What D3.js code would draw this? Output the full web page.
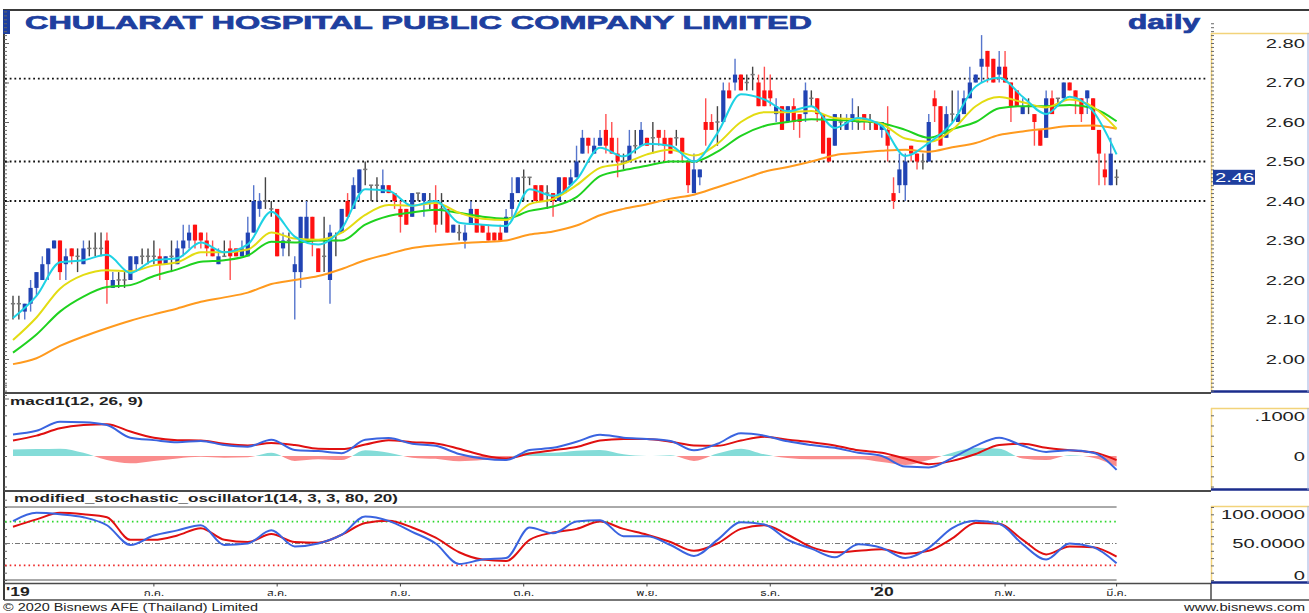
<!DOCTYPE html>
<html>
<head>
<meta charset="utf-8">
<script src="https://cdn.jsdelivr.net/npm/d3@7"></script>
<style>
  body { margin: 0; background: #fff; }
  svg { display: block; font-family: "Liberation Sans", Arial, sans-serif; }
</style>
</head>
<body>
<svg id="chart"></svg>
<script>
// daily candles, one value per trading day
const candleOpen = [
  2.14,2.14,2.12,2.14,2.18,2.20,2.24,2.28,2.30,2.24,
  2.28,2.26,2.24,2.28,2.28,2.28,2.30,2.18,2.20,2.20,
  2.20,2.24,2.26,2.26,2.26,2.26,2.24,2.26,2.24,2.28,
  2.30,2.34,2.32,2.30,2.28,2.24,2.26,2.28,2.28,2.26,
  2.26,2.32,2.38,2.40,2.38,2.38,2.28,2.30,2.22,2.22,
  2.30,2.36,2.28,2.26,2.20,2.30,2.32,2.40,2.38,2.42,
  2.48,2.44,2.44,2.42,2.44,2.42,2.38,2.38,2.36,2.42,
  2.40,2.40,2.40,2.38,2.38,2.32,2.32,2.30,2.34,2.38,
  2.34,2.32,2.32,2.32,2.32,2.38,2.42,2.46,2.46,2.44,
  2.44,2.42,2.42,2.40,2.46,2.44,2.46,2.52,2.56,2.52,
  2.54,2.58,2.56,2.52,2.50,2.50,2.54,2.54,2.56,2.56,
  2.58,2.56,2.56,2.56,2.56,2.50,2.42,2.46,2.60,2.60,
  2.60,2.60,2.68,2.70,2.72,2.70,2.72,2.70,2.68,2.68,
  2.62,2.64,2.60,2.64,2.62,2.62,2.66,2.66,2.62,2.56,
  2.54,2.60,2.58,2.60,2.60,2.62,2.60,2.60,2.58,2.58,
  2.42,2.44,2.44,2.54,2.52,2.50,2.50,2.66,2.64,2.56,
  2.62,2.60,2.62,2.66,2.70,2.74,2.78,2.76,2.72,2.74,
  2.70,2.68,2.62,2.64,2.62,2.58,2.56,2.66,2.66,2.66,
  2.70,2.68,2.66,2.66,2.66,2.58,2.48,2.44,2.46
];
const candleHigh = [
  2.16,2.16,2.14,2.20,2.22,2.26,2.28,2.30,2.30,2.28,
  2.28,2.28,2.30,2.30,2.32,2.32,2.32,2.22,2.22,2.22,
  2.26,2.26,2.28,2.28,2.30,2.28,2.26,2.30,2.30,2.34,
  2.34,2.34,2.32,2.32,2.30,2.28,2.30,2.30,2.28,2.30,
  2.36,2.44,2.42,2.46,2.40,2.38,2.32,2.32,2.26,2.36,
  2.40,2.36,2.28,2.36,2.34,2.32,2.38,2.42,2.46,2.48,
  2.50,2.44,2.46,2.48,2.44,2.42,2.40,2.38,2.42,2.42,
  2.42,2.42,2.44,2.42,2.38,2.34,2.34,2.34,2.40,2.38,
  2.34,2.34,2.32,2.34,2.38,2.46,2.46,2.48,2.46,2.44,
  2.44,2.44,2.42,2.46,2.46,2.48,2.54,2.58,2.56,2.56,
  2.58,2.62,2.60,2.56,2.52,2.58,2.58,2.60,2.56,2.60,
  2.58,2.58,2.56,2.58,2.56,2.50,2.52,2.48,2.66,2.62,
  2.64,2.70,2.70,2.76,2.72,2.72,2.74,2.72,2.74,2.72,
  2.66,2.64,2.64,2.66,2.62,2.70,2.68,2.66,2.62,2.56,
  2.62,2.62,2.62,2.66,2.64,2.62,2.62,2.60,2.60,2.64,
  2.46,2.52,2.52,2.54,2.52,2.52,2.62,2.68,2.64,2.64,
  2.68,2.68,2.68,2.74,2.72,2.82,2.78,2.76,2.78,2.78,
  2.70,2.68,2.66,2.66,2.62,2.58,2.68,2.68,2.66,2.70,
  2.70,2.68,2.66,2.68,2.66,2.58,2.52,2.56,2.48
];
const candleLow = [
  2.10,2.10,2.10,2.12,2.16,2.20,2.20,2.28,2.20,2.20,
  2.24,2.22,2.24,2.26,2.26,2.26,2.14,2.18,2.18,2.18,
  2.20,2.22,2.24,2.24,2.24,2.20,2.24,2.22,2.24,2.26,
  2.28,2.28,2.28,2.26,2.26,2.24,2.26,2.20,2.26,2.26,
  2.26,2.32,2.36,2.38,2.36,2.26,2.26,2.26,2.10,2.18,
  2.30,2.26,2.22,2.22,2.14,2.26,2.32,2.36,2.38,2.40,
  2.44,2.40,2.40,2.42,2.42,2.38,2.32,2.34,2.36,2.40,
  2.36,2.38,2.32,2.34,2.32,2.32,2.30,2.28,2.34,2.32,
  2.32,2.30,2.30,2.30,2.32,2.36,2.42,2.40,2.44,2.40,
  2.40,2.38,2.36,2.40,2.42,2.44,2.46,2.52,2.52,2.52,
  2.54,2.52,2.52,2.46,2.48,2.50,2.52,2.54,2.54,2.52,
  2.54,2.50,2.52,2.54,2.50,2.42,2.42,2.44,2.54,2.58,
  2.54,2.60,2.66,2.68,2.68,2.68,2.68,2.64,2.64,2.64,
  2.60,2.58,2.60,2.58,2.56,2.60,2.64,2.60,2.52,2.50,
  2.54,2.58,2.58,2.58,2.58,2.58,2.58,2.58,2.56,2.50,
  2.38,2.42,2.40,2.50,2.48,2.48,2.50,2.60,2.54,2.56,
  2.60,2.60,2.62,2.66,2.70,2.70,2.70,2.70,2.70,2.70,
  2.60,2.64,2.62,2.62,2.54,2.54,2.56,2.62,2.64,2.66,
  2.68,2.62,2.60,2.62,2.58,2.44,2.44,2.44,2.44
];
const candleClose = [
  2.14,2.14,2.14,2.18,2.22,2.24,2.28,2.30,2.22,2.26,
  2.26,2.26,2.28,2.28,2.28,2.28,2.20,2.20,2.20,2.20,
  2.26,2.26,2.26,2.26,2.26,2.24,2.26,2.26,2.28,2.30,
  2.32,2.30,2.30,2.28,2.26,2.26,2.26,2.26,2.26,2.28,
  2.32,2.40,2.40,2.40,2.38,2.26,2.30,2.30,2.24,2.36,
  2.36,2.30,2.22,2.26,2.32,2.30,2.38,2.36,2.44,2.48,
  2.48,2.44,2.44,2.44,2.42,2.40,2.36,2.34,2.42,2.42,
  2.42,2.40,2.34,2.38,2.32,2.34,2.32,2.32,2.38,2.32,
  2.32,2.30,2.30,2.30,2.36,2.42,2.46,2.46,2.46,2.40,
  2.40,2.42,2.40,2.46,2.42,2.46,2.50,2.56,2.54,2.54,
  2.56,2.54,2.52,2.50,2.50,2.54,2.54,2.58,2.54,2.56,
  2.56,2.54,2.52,2.56,2.52,2.44,2.48,2.48,2.58,2.58,
  2.60,2.68,2.66,2.72,2.68,2.70,2.72,2.64,2.64,2.66,
  2.64,2.58,2.64,2.60,2.60,2.68,2.66,2.62,2.52,2.50,
  2.62,2.60,2.60,2.62,2.60,2.60,2.60,2.58,2.60,2.54,
  2.40,2.48,2.50,2.52,2.50,2.50,2.60,2.64,2.54,2.62,
  2.62,2.62,2.66,2.70,2.72,2.76,2.74,2.70,2.74,2.70,
  2.64,2.64,2.64,2.64,2.60,2.54,2.66,2.62,2.66,2.70,
  2.68,2.66,2.62,2.68,2.58,2.52,2.46,2.52,2.46
];

// line series, one value every 4th trading day (day 0, 4, 8, ...)
const sampleStep = 4;
const maCyan = [2.104,2.16,2.245,2.25,2.264,2.218,2.25,2.255,2.295,2.27,2.29,2.373,2.31,2.29,2.33,2.43,
  2.426,2.388,2.40,2.345,2.34,2.337,2.43,2.413,2.454,2.535,2.513,2.545,2.54,2.50,2.572,2.67,
  2.657,2.627,2.64,2.585,2.61,2.59,2.514,2.547,2.598,2.69,2.712,2.664,2.62,2.664,2.627,2.518];
const maYellow = [2.048,2.105,2.178,2.213,2.225,2.222,2.237,2.245,2.27,2.27,2.277,2.32,2.305,2.302,2.32,2.365,
  2.39,2.388,2.395,2.37,2.355,2.352,2.392,2.405,2.44,2.484,2.495,2.518,2.53,2.515,2.545,2.60,
  2.625,2.625,2.628,2.61,2.606,2.595,2.558,2.55,2.58,2.64,2.663,2.65,2.637,2.657,2.638,2.583];
const maGreen = [2.016,2.062,2.12,2.158,2.182,2.187,2.21,2.227,2.246,2.25,2.262,2.297,2.295,2.30,2.30,2.34,
  2.362,2.371,2.378,2.37,2.36,2.355,2.375,2.386,2.41,2.463,2.478,2.489,2.50,2.50,2.525,2.565,
  2.59,2.60,2.607,2.605,2.602,2.597,2.58,2.56,2.582,2.60,2.635,2.64,2.64,2.643,2.635,2.602];
const maOrange = [1.987,2.002,2.033,2.057,2.078,2.097,2.113,2.128,2.145,2.156,2.168,2.19,2.20,2.21,2.228,2.25,
  2.266,2.281,2.288,2.293,2.296,2.30,2.315,2.323,2.338,2.364,2.38,2.392,2.406,2.416,2.435,2.454,
  2.474,2.486,2.50,2.516,2.522,2.527,2.53,2.525,2.536,2.547,2.567,2.576,2.583,2.59,2.591,2.583];

const macdLine = [0.053,0.062,0.084,0.083,0.076,0.045,0.039,0.034,0.037,0.027,0.023,0.04,0.015,0.012,0.007,0.04,
  0.044,0.03,0.025,0.005,-0.006,-0.01,0.015,0.02,0.035,0.052,0.045,0.042,0.037,0.014,0.03,0.056,
  0.05,0.036,0.027,0.02,0.008,0.0,-0.026,-0.028,-0.005,0.025,0.045,0.025,0.01,0.014,0.008,-0.034];
const macdSignal = [0.038,0.05,0.068,0.076,0.078,0.06,0.045,0.039,0.038,0.03,0.026,0.032,0.027,0.018,0.017,0.028,
  0.039,0.034,0.031,0.018,0.002,-0.006,0.006,0.014,0.022,0.038,0.042,0.042,0.035,0.026,0.025,0.038,
  0.047,0.04,0.034,0.026,0.014,0.008,-0.006,-0.02,-0.012,0.005,0.027,0.03,0.02,0.014,0.009,-0.01];
const macdHist = [0.016,0.017,0.018,0.008,-0.01,-0.018,-0.012,-0.006,-0.002,-0.004,-0.003,0.008,-0.012,-0.008,-0.01,0.014,
  0.008,-0.004,-0.007,-0.013,-0.01,-0.005,0.01,0.008,0.013,0.015,0.004,0.0,0.002,-0.012,0.006,0.018,
  0.004,-0.005,-0.008,-0.008,-0.008,-0.015,-0.022,-0.01,0.008,0.02,0.018,-0.006,-0.01,0.002,-0.004,-0.026];

const stochK = [80.8,92,90,86,75,48,61,68,75,48,50,68,46,50,62,87,
  81,66,50,22,28,30,72,64,80,82,60,60,48,33,55,79,
  76,55,43,31,49,44,30,44,71,81,77,49,28,50,45,23];
const stochD = [73,83,92,90,86,55,55,61,71,55,52,63,52,51,62,78,
  81,72,58,38,28,26,55,65,70,80,70,62,52,40,50,70,
  75,62,45,38,40,42,36,40,57,78,77,55,35,46,45,32];

// axes and labels
const priceTicks = [2.0,2.1,2.2,2.3,2.4,2.5,2.6,2.7,2.8];
const priceRefLines = [2.71, 2.50, 2.40];
const lastPrice = 2.46;
const macdTicks = [0, 0.1];
const stochTicks = [0, 50, 100];
const stochLevels = [{v: 80, color: '#2fd82f'}, {v: 20, color: '#ee2a2a'}];
const monthLabels = ['ก.ค.','ส.ค.','ก.ย.','ต.ค.','พ.ย.','ธ.ค.',"'20",'ก.พ.','มี.ค.'];
const monthStartIdx = [24,45,66,87,108,129,148,169,188];
const firstYearLabel = "'19";
const titleText = 'CHULARAT HOSPITAL PUBLIC COMPANY LIMITED';

class DailyChart {

    constructor(_config) {
        this.config = {
            parentElement: _config.parentElement,
            containerWidth: _config.containerWidth || 1309,
            containerHeight: _config.containerHeight || 613,
            plotLeft: 5, plotRight: 1208, boxLeft: 1211, boxRight: 1309,
            firstX: 13, lastX: 1116.6,
            price: {top: 33, bottom: 392},
            macd: {top: 408, bottom: 490},
            stoch: {top: 506, bottom: 583},
            stretch: 1.55
        }
        this.initVis();
    }

    initVis() {
        let vis = this;

        vis.svg = d3.select(vis.config.parentElement)
            .attr('width', vis.config.containerWidth)
            .attr('height', vis.config.containerHeight);

        vis.xScale = d3.scaleLinear()
            .domain([0, candleClose.length - 1])
            .range([vis.config.firstX, vis.config.lastX]);

        vis.yPrice = d3.scaleLinear().domain([2.0, 2.8]).range([359, 43]);
        vis.yMacd = d3.scaleLinear().domain([0, 0.1]).range([456, 415.3]);
        vis.yStoch = d3.scaleLinear().domain([0, 100]).range([580, 507]);

        vis.candles = candleClose.map((c, i) => ({
            i: i, o: candleOpen[i], h: candleHigh[i], l: candleLow[i], c: c
        }));

        vis.sampled = arr => arr.map((v, k) => ({i: k * sampleStep, v: v}));

        vis.updateVis();
    }

    updateVis() {
        let vis = this;
        vis.renderFrame();
        vis.renderPrice();
        vis.renderMacd();
        vis.renderStoch();
        vis.renderTimeAxis();
    }

    // stretched text, the original screenshot is wide
    stretchText(g, x, y, txt, opts) {
        let vis = this;
        return g.append('text')
            .attr('transform', `translate(${x},${y}) scale(${opts.sx || vis.config.stretch},1)`)
            .attr('text-anchor', opts.anchor || 'start')
            .attr('font-size', opts.size || 13)
            .attr('font-weight', opts.weight || 'normal')
            .attr('font-family', opts.family || null)
            .attr('fill', opts.fill || '#222')
            .text(txt);
    }

    renderFrame() {
        let vis = this;
        const c = vis.config;
        const g = vis.svg.append('g');

        const hline = (y, x1, x2, col, w) => g.append('line')
            .attr('x1', x1).attr('x2', x2).attr('y1', y).attr('y2', y)
            .attr('stroke', col).attr('stroke-width', w);
        const vline = (x, y1, y2, col, w) => g.append('line')
            .attr('x1', x).attr('x2', x).attr('y1', y1).attr('y2', y2)
            .attr('stroke', col).attr('stroke-width', w);

        hline(10, 3, c.containerWidth, '#3a3a3a', 2);
        vline(4, 10, 600, '#3a3a3a', 2);
        g.append('rect').attr('x', 3).attr('y', 10).attr('width', 7).attr('height', 24).attr('fill', '#1e3f9f');

        hline(393, 4, c.boxLeft, '#4a4a4a', 2);
        hline(491, 4, c.boxLeft, '#4a4a4a', 2);
        hline(583.5, 4, c.boxLeft, '#4a4a4a', 1.5);
        hline(600, 4, c.containerWidth, '#4a4a4a', 1.5);
        vline(c.boxLeft, 583, 600, '#4a4a4a', 1.5);

        // right axis boxes
        [c.price, c.macd, c.stoch].forEach(p => {
            vline(c.boxLeft + 0.5, p.top, p.bottom, '#f2d37a', 1.5);
            hline(p.top + 0.5, c.boxLeft, c.boxRight, '#f2d37a', 1.5);
            hline(p.bottom - 0.5, c.boxLeft, c.boxRight, '#1b2d8c', 2.5);
            vline(c.boxRight - 1, p.top, p.bottom, '#9fb0e0', 1);
        });

        vis.stretchText(g, 25, 28.5, titleText, {size: 19, weight: 'bold', fill: '#1e3f9f', sx: 1})
            .attr('textLength', 787).attr('lengthAdjust', 'spacingAndGlyphs')
            .attr('stroke', '#1e3f9f').attr('stroke-width', 0.7);
        vis.stretchText(g, 1128, 28.5, 'daily', {size: 20, weight: 'bold', fill: '#1e3f9f', sx: 1})
            .attr('textLength', 72).attr('lengthAdjust', 'spacingAndGlyphs')
            .attr('stroke', '#1e3f9f').attr('stroke-width', 0.7);

        vis.stretchText(g, 3, 611, '© 2020 Bisnews AFE (Thailand) Limited', {size: 10, sx: 1})
            .attr('textLength', 255).attr('lengthAdjust', 'spacingAndGlyphs');
        vis.stretchText(g, 1184, 611, 'www.bisnews.com', {size: 10, sx: 1})
            .attr('textLength', 121).attr('lengthAdjust', 'spacingAndGlyphs');
    }

    minorTicks(scale, lo, hi, step, x, size) {
        let vis = this;
        const vals = d3.range(Math.round(lo / step), Math.round(hi / step) + 1).map(k => k * step);
        vis.svg.append('g')
            .attr('transform', `translate(${x},0)`)
            .call(d3.axisRight(scale).tickValues(vals).tickSize(size).tickFormat(''))
            .call(g => g.select('.domain').remove())
            .call(g => g.selectAll('line').attr('stroke', '#666'));
    }

    boxLabels(scale, ticks, fmt, panel) {
        let vis = this;
        const g = vis.svg.append('g');
        ticks.forEach(t => {
            const y = Math.max(panel.top + 8, Math.min(panel.bottom - 8, scale(t)));
            vis.stretchText(g, 1305, y + 4.5, fmt(t), {anchor: 'end', size: 13});
        });
    }

    renderPrice() {
        let vis = this;
        const c = vis.config;

        vis.minorTicks(vis.yPrice, 1.92, 2.88, 0.01, 4, 3);
        vis.minorTicks(vis.yPrice, 1.9, 2.8, 0.1, 4, 5);
        vis.minorTicks(vis.yPrice, 1.92, 2.85, 0.01, c.boxLeft, 3);

        vis.svg.append('g').selectAll('line')
            .data(priceRefLines)
            .join('line')
            .attr('x1', c.plotLeft).attr('x2', c.plotRight)
            .attr('y1', d => vis.yPrice(d)).attr('y2', d => vis.yPrice(d))
            .attr('stroke', '#111').attr('stroke-width', 1.8)
            .attr('stroke-dasharray', '1.8,2.9');

        const cg = vis.svg.append('g');
        const kind = d => d.c > d.o ? 'up' : (d.c < d.o ? 'down' : 'flat');
        const wickCol = {up: '#5675cc', down: '#ff5050', flat: '#444'};
        const bodyCol = {up: '#2143b3', down: '#ff1111', flat: '#777'};

        cg.selectAll('line.wick')
            .data(vis.candles)
            .join('line')
            .attr('class', 'wick')
            .attr('x1', d => vis.xScale(d.i)).attr('x2', d => vis.xScale(d.i))
            .attr('y1', d => vis.yPrice(d.h)).attr('y2', d => vis.yPrice(d.l))
            .attr('stroke', d => wickCol[kind(d)])
            .attr('stroke-width', 1.4);

        cg.selectAll('rect.body')
            .data(vis.candles)
            .join('rect')
            .attr('class', 'body')
            .attr('x', d => vis.xScale(d.i) - 2.1)
            .attr('width', 4.2)
            .attr('y', d => vis.yPrice(Math.max(d.o, d.c)) - (d.o === d.c ? 0.75 : 0))
            .attr('height', d => Math.max(1.5, Math.abs(vis.yPrice(d.o) - vis.yPrice(d.c))))
            .attr('fill', d => bodyCol[kind(d)]);

        const line = d3.line()
            .x(d => vis.xScale(d.i))
            .y(d => vis.yPrice(d.v))
            .curve(d3.curveMonotoneX);

        [[maOrange, '#ff9a1e'], [maGreen, '#1fd21f'], [maYellow, '#e3dc12'], [maCyan, '#1ed2e4']]
            .forEach(([arr, col]) => {
                vis.svg.append('path')
                    .datum(vis.sampled(arr))
                    .attr('d', line)
                    .attr('fill', 'none')
                    .attr('stroke', col)
                    .attr('stroke-width', 2);
            });

        vis.boxLabels(vis.yPrice, priceTicks, d3.format('.2f'), c.price);

        const ly = vis.yPrice(lastPrice);
        vis.svg.append('rect')
            .attr('x', 1213).attr('y', ly - 7.5).attr('width', 42).attr('height', 15)
            .attr('fill', '#1f3f9f');
        vis.stretchText(vis.svg, 1215, ly + 4.7, d3.format('.2f')(lastPrice), {size: 13, fill: '#fff'});
    }

    renderMacd() {
        let vis = this;
        const c = vis.config;

        vis.minorTicks(vis.yMacd, -0.075, 0.175, 0.025, 4, 3);
        vis.minorTicks(vis.yMacd, -0.075, 0.1, 0.025, c.boxLeft, 3);

        // histogram as area, split into the part above and below zero
        const zeroY = vis.yMacd(0);
        const defs = vis.svg.append('defs');
        defs.append('clipPath').attr('id', 'hist-pos')
            .append('rect').attr('x', 0).attr('y', 0).attr('width', c.boxLeft).attr('height', zeroY);
        defs.append('clipPath').attr('id', 'hist-neg')
            .append('rect').attr('x', 0).attr('y', zeroY).attr('width', c.boxLeft).attr('height', 100);

        const area = d3.area()
            .x(d => vis.xScale(d.i))
            .y0(zeroY)
            .y1(d => vis.yMacd(d.v))
            .curve(d3.curveMonotoneX);

        [['hist-pos', '#84dcd8'], ['hist-neg', '#fa8c8c']].forEach(([clip, col]) => {
            vis.svg.append('path')
                .datum(vis.sampled(macdHist))
                .attr('d', area)
                .attr('fill', col)
                .attr('clip-path', `url(#${clip})`);
        });

        const line = d3.line()
            .x(d => vis.xScale(d.i))
            .y(d => vis.yMacd(d.v))
            .curve(d3.curveMonotoneX);

        [[macdSignal, '#e01010'], [macdLine, '#3a64e0']].forEach(([arr, col]) => {
            vis.svg.append('path')
                .datum(vis.sampled(arr))
                .attr('d', line)
                .attr('fill', 'none')
                .attr('stroke', col)
                .attr('stroke-width', 2);
        });

        vis.stretchText(vis.svg, 10, 405, 'macd1(12, 26, 9)', {size: 11, weight: 'bold', sx: 1})
            .attr('textLength', 133).attr('lengthAdjust', 'spacingAndGlyphs');
        vis.boxLabels(vis.yMacd, macdTicks, d => d === 0 ? '0' : d3.format('.4f')(d).replace(/^0/, ''), c.macd);
    }

    renderStoch() {
        let vis = this;
        const c = vis.config;

        vis.minorTicks(vis.yStoch, 0, 110, 10, 4, 3);
        vis.minorTicks(vis.yStoch, 0, 100, 10, c.boxLeft, 3);

        const x0 = c.plotLeft, x1 = vis.xScale(candleClose.length - 1);
        const g = vis.svg.append('g');
        [0, 100].forEach(v => g.append('line')
            .attr('x1', x0).attr('x2', x1).attr('y1', vis.yStoch(v)).attr('y2', vis.yStoch(v))
            .attr('stroke', '#555').attr('stroke-width', 1));
        g.append('line')
            .attr('x1', x0).attr('x2', x1).attr('y1', vis.yStoch(50)).attr('y2', vis.yStoch(50))
            .attr('stroke', '#777').attr('stroke-width', 1).attr('stroke-dasharray', '5,2,1,2');
        g.selectAll('line.level')
            .data(stochLevels)
            .join('line')
            .attr('class', 'level')
            .attr('x1', x0).attr('x2', x1)
            .attr('y1', d => vis.yStoch(d.v)).attr('y2', d => vis.yStoch(d.v))
            .attr('stroke', d => d.color).attr('stroke-width', 1.6)
            .attr('stroke-dasharray', '1.6,3.1');

        const line = d3.line()
            .x(d => vis.xScale(d.i))
            .y(d => vis.yStoch(d.v))
            .curve(d3.curveMonotoneX);

        [[stochD, '#e01010'], [stochK, '#3a64e0']].forEach(([arr, col]) => {
            vis.svg.append('path')
                .datum(vis.sampled(arr))
                .attr('d', line)
                .attr('fill', 'none')
                .attr('stroke', col)
                .attr('stroke-width', 2);
        });

        vis.stretchText(vis.svg, 14, 502, 'modified_stochastic_oscillator1(14, 3, 3, 80, 20)', {size: 11, weight: 'bold', sx: 1})
            .attr('textLength', 384).attr('lengthAdjust', 'spacingAndGlyphs');
        vis.boxLabels(vis.yStoch, stochTicks, d => d === 0 ? '0' : d3.format('.4f')(d), c.stoch);
    }

    renderTimeAxis() {
        let vis = this;
        const g = vis.svg.append('g');

        g.selectAll('line')
            .data(monthStartIdx)
            .join('line')
            .attr('x1', d => vis.xScale(d)).attr('x2', d => vis.xScale(d))
            .attr('y1', 583).attr('y2', 586.5)
            .attr('stroke', '#444');

        vis.stretchText(g, 6, 596, firstYearLabel, {size: 13, weight: 'bold', sx: 1.35});

        monthLabels.forEach((m, k) => {
            const isYear = m.startsWith("'");
            vis.stretchText(g, vis.xScale(monthStartIdx[k]), 596, m, {
                anchor: 'middle',
                size: isYear ? 13 : 9,
                weight: isYear ? 'bold' : 'normal',
                sx: isYear ? 1.35 : 1.3,
                family: isYear ? null : '"Noto Sans Thai", "Loma", "Garuda", "Tahoma", "DejaVu Sans", sans-serif'
            });
        });
    }
}

new DailyChart({parentElement: '#chart'});
</script>
</body>
</html>
